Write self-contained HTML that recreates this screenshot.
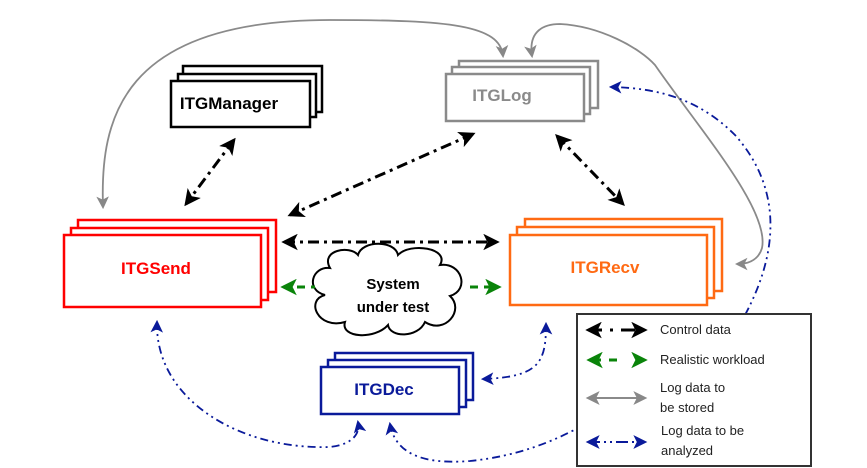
<!DOCTYPE html>
<html><head><meta charset="utf-8"><style>
html,body{margin:0;padding:0;background:#fff;width:867px;height:468px;overflow:hidden}
svg{display:block}
text{font-family:"Liberation Sans",sans-serif}
</style></head><body>
<svg width="867" height="468" viewBox="0 0 867 468" xmlns="http://www.w3.org/2000/svg">
<defs>
<marker id="bk" viewBox="0 0 12 12" refX="10" refY="6" markerWidth="5.5" markerHeight="5.5" orient="auto-start-reverse" markerUnits="strokeWidth"><path d="M0,0 L12,6 L0,12 L3,6 Z" fill="#000"/></marker>
<marker id="gr" viewBox="0 0 12 12" refX="10" refY="6" markerWidth="5.5" markerHeight="5.5" orient="auto-start-reverse" markerUnits="strokeWidth"><path d="M0,0 L12,6 L0,12 L3,6 Z" fill="#0a840a"/></marker>
<marker id="gy" viewBox="0 0 12 12" refX="10" refY="6" markerWidth="7" markerHeight="7" orient="auto-start-reverse" markerUnits="strokeWidth"><path d="M0,0 L12,6 L0,12 L3,6 Z" fill="#888"/></marker>
<marker id="bl" viewBox="0 0 12 12" refX="10" refY="6" markerWidth="7" markerHeight="7" orient="auto-start-reverse" markerUnits="strokeWidth"><path d="M0,0 L12,6 L0,12 L3,6 Z" fill="#0a1a9a"/></marker>
</defs>

<!-- ITGManager -->
<g fill="#fff" stroke="#000" stroke-width="2.5">
<rect x="183" y="66" width="139" height="46"/>
<rect x="178" y="74" width="138" height="43"/>
<rect x="171" y="81" width="139" height="46"/>
</g>
<text x="229" y="109" text-anchor="middle" font-size="17" font-weight="bold">ITGManager</text>

<!-- ITGLog -->
<g fill="#fff" stroke="#8a8a8a" stroke-width="2.5">
<rect x="459" y="61" width="139" height="47"/>
<rect x="452" y="67" width="138" height="47"/>
<rect x="446" y="74" width="138" height="47"/>
</g>
<text x="502" y="101" text-anchor="middle" font-size="17" font-weight="bold" fill="#8a8a8a">ITGLog</text>

<!-- ITGSend -->
<g fill="#fff" stroke="#f00" stroke-width="2.5">
<rect x="78" y="220" width="198" height="72"/>
<rect x="71" y="228" width="197" height="72"/>
<rect x="64" y="235" width="197" height="72"/>
</g>
<text x="156" y="274" text-anchor="middle" font-size="17" font-weight="bold" fill="#f00">ITGSend</text>

<!-- ITGRecv -->
<g fill="#fff" stroke="#ff6a13" stroke-width="2.5">
<rect x="525" y="219" width="197" height="72"/>
<rect x="517" y="227" width="197" height="71"/>
<rect x="510" y="235" width="197" height="70"/>
</g>
<text x="605" y="273" text-anchor="middle" font-size="17" font-weight="bold" fill="#ff6a13">ITGRecv</text>

<!-- ITGDec -->
<g fill="#fff" stroke="#0a1a9a" stroke-width="2.5">
<rect x="335" y="353" width="138" height="47"/>
<rect x="328" y="360" width="138" height="47"/>
<rect x="321" y="367" width="138" height="47"/>
</g>
<text x="384" y="395" text-anchor="middle" font-size="17" font-weight="bold" fill="#0a1a9a">ITGDec</text>

<!-- cloud -->
<path d="M330,268 C320,250 350,245 358,255 C362,240 395,240 398,255 C410,242 450,248 440,265 C462,262 470,290 450,296 C465,310 445,335 425,322 C418,338 390,338 388,325 C375,340 340,338 345,322 C318,330 305,300 325,295 C305,290 312,266 330,268 Z" fill="#fff" stroke="#000" stroke-width="2"/>
<text x="393" y="289" text-anchor="middle" font-size="15" font-weight="bold">System</text>
<text x="393" y="312" text-anchor="middle" font-size="15" font-weight="bold">under test</text>

<!-- black control arrows -->
<g stroke="#000" stroke-width="3" fill="none" stroke-dasharray="11,5,3,5">
<line x1="234" y1="140" x2="186" y2="204" marker-start="url(#bk)" marker-end="url(#bk)"/>
<line x1="473" y1="134" x2="290" y2="215" marker-end="url(#bk)" marker-start="url(#bk)"/>
<line x1="557" y1="136" x2="623" y2="204" marker-start="url(#bk)" marker-end="url(#bk)"/>
<line x1="284" y1="242" x2="497" y2="242" marker-start="url(#bk)" marker-end="url(#bk)"/>
</g>

<!-- green -->
<g stroke="#0a840a" stroke-width="3" fill="none" stroke-dasharray="8,6">
<line x1="283" y1="287" x2="315" y2="287" marker-start="url(#gr)"/>
<line x1="470" y1="287" x2="499" y2="287" marker-end="url(#gr)"/>
</g>

<!-- gray -->
<g stroke="#8a8a8a" stroke-width="1.8" fill="none">
<path d="M103,207 C100,120 120,20 330,20 C450,20 500,25 503,56" marker-start="url(#gy)" marker-end="url(#gy)"/>
<path d="M532,56 C528,30 545,24 560,24 C600,26 640,48 655,65 C700,130 770,210 762,248 C758,262 745,264 737,264" marker-start="url(#gy)" marker-end="url(#gy)"/>
</g>

<!-- blue -->
<g stroke="#0a1a9a" stroke-width="1.8" fill="none" stroke-dasharray="8,4,2,4,2,4">
<path d="M745,315 C785,240 775,180 735,135 C700,100 660,88 611,87" marker-end="url(#bl)"/>
<path d="M157,322 C155,400 240,450 330,447 C355,444 360,432 358,422" marker-start="url(#bl)" marker-end="url(#bl)"/>
<path d="M390,424 C395,452 420,465 470,461 C520,456 555,440 578,428" marker-start="url(#bl)"/>
<path d="M546,324 C546,362 540,377 483,379" marker-start="url(#bl)" marker-end="url(#bl)"/>
</g>

<!-- legend -->
<rect x="577" y="314" width="234" height="152" fill="#fff" stroke="#333" stroke-width="2"/>
<line x1="588" y1="330" x2="645" y2="330" stroke="#000" stroke-width="3" stroke-dasharray="14,8,3,8" marker-start="url(#bk)" marker-end="url(#bk)"/>
<line x1="589" y1="360" x2="645" y2="360" stroke="#0a840a" stroke-width="3" stroke-dasharray="12,8,8,20" marker-start="url(#gr)" marker-end="url(#gr)"/>
<line x1="588" y1="398" x2="645" y2="398" stroke="#8a8a8a" stroke-width="2" marker-start="url(#gy)" marker-end="url(#gy)"/>
<line x1="588" y1="442" x2="645" y2="442" stroke="#0a1a9a" stroke-width="2" stroke-dasharray="12,4,2,4,2,4" marker-start="url(#bl)" marker-end="url(#bl)"/>
<g font-size="13" fill="#222">
<text x="660" y="334">Control data</text>
<text x="660" y="364">Realistic workload</text>
<text x="660" y="392">Log data to</text>
<text x="660" y="412">be stored</text>
<text x="661" y="435">Log data to be</text>
<text x="661" y="455">analyzed</text>
</g>
</svg>
</body></html>
